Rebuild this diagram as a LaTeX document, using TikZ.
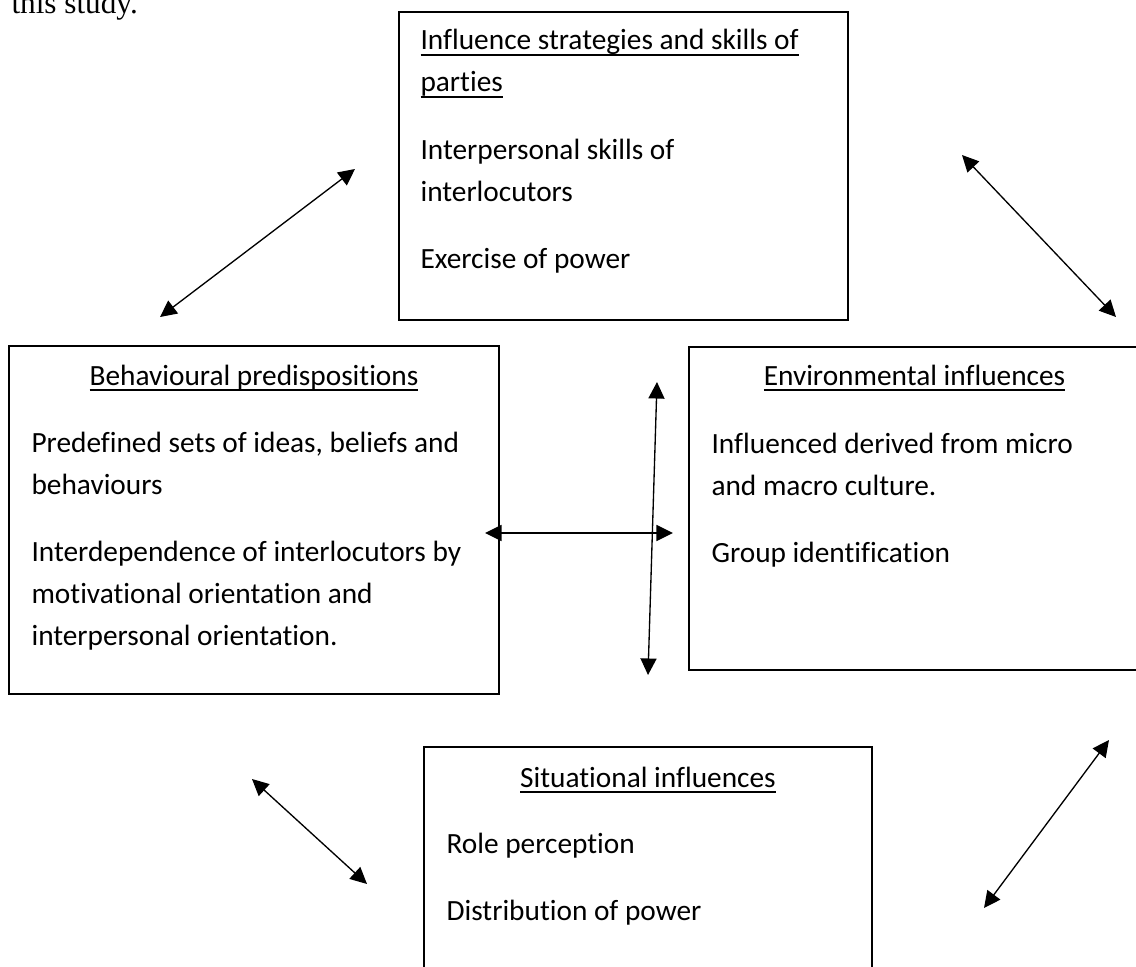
\documentclass[tikz,border=0pt]{standalone}
\usepackage{fontspec}
\setmainfont{Carlito}[Ligatures=NoCommon]
\newfontfamily\timesfont{Liberation Serif}
\newcommand{\uln}[1]{\leavevmode\setbox0\hbox{#1}\rlap{\rule[-2.2pt]{\wd0}{0.6pt}}\box0}
\usetikzlibrary{arrows.meta,fit}

\begin{document}
\begin{tikzpicture}[x=0.375pt, y=-0.375pt,
    box/.style ={draw, line width=0.75pt, inner sep=0pt},
    heading/.style ={anchor=base, inner sep=0pt, font=\fontsize{11pt}{15.75pt}\selectfont},
    body/.style ={anchor=base west, inner sep=0pt, align=flush left, text width=180pt, font=\fontsize{11pt}{15.75pt}\selectfont},
    twoway/.style ={<->, >={Triangle[length=6.2pt, width=6pt]}, line width=0.5pt}]
   \useasboundingbox (0,0) rectangle (1136,967);
   \clip (0,0) rectangle (1136,967);

   \node[anchor=base west, inner sep=0pt, font=\timesfont\fontsize{11.7pt}{14pt}\selectfont] (S) at (11,14) {this study.};

   % top box
   \node[box, fit={(399,12) (848,320)}] (T) {};
   \node[body] (T1) at (420,50) {\uln{Influence strategies and skills of}\\\uln{parties}};
   \node[body] (T2) at (420,159) {Interpersonal skills of\\interlocutors\\[9.4pt]Exercise of power};

   % left box
   \node[box, fit={(9,346) (499,694)}] (L) {};
   \node[heading] (L0) at (254,385) {\uln{Behavioural predispositions}};
   \node[body] (L1) at (31,452) {Predefined sets of ideas, beliefs and\\behaviours\\[9.4pt]Interdependence of interlocutors by\\motivational orientation and\\interpersonal orientation.};

   % right box
   \node[box, fit={(689,347) (1140,670)}] (R) {};
   \node[heading] (R0) at (914.5,385) {\uln{Environmental influences}};
   \node[body] (R1) at (711,453) {Influenced derived from micro\\and macro culture.\\[9.4pt]Group identification};

   % bottom box
   \node[box, fit={(424,747) (872,1000)}] (B) {};
   \node[heading] (B0) at (648,787) {\uln{Situational influences}};
   \node[body] (B1) at (446,853) {Role perception\\[9.4pt]Distribution of power};

   % arrows
   \coordinate (a1) at (160,317);  \coordinate (a2) at (355,169);
   \coordinate (b1) at (962,155);  \coordinate (b2) at (1116,317);
   \coordinate (c1) at (485,533);  \coordinate (c2) at (673,533);
   \coordinate (d1) at (657,382);  \coordinate (d2) at (648,675);
   \coordinate (e1) at (252,779);  \coordinate (e2) at (367,884);
   \coordinate (f1) at (1109,740); \coordinate (f2) at (984,908);

   \draw[twoway] (a1) to (a2);
   \draw[twoway] (b1) to (b2);
   \draw[twoway] (c1) to (c2);
   \draw[twoway] (d1) to (d2);
   \draw[twoway] (e1) to (e2);
   \draw[twoway] (f1) to (f2);
 \end{tikzpicture}
\end{document}
